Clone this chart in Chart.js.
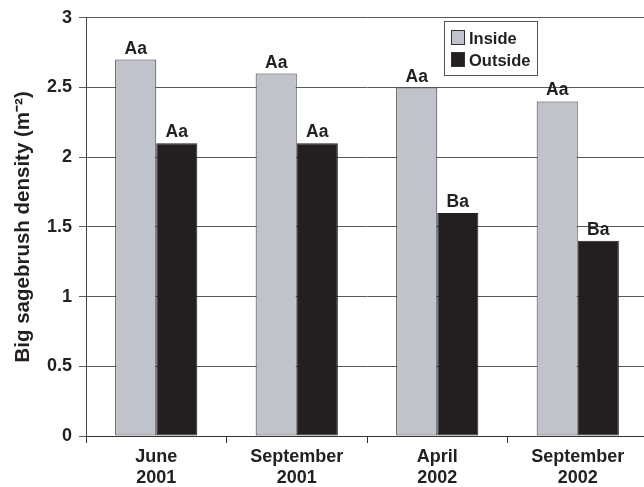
<!DOCTYPE html>
<html>
<head>
<meta charset="utf-8">
<script src="https://cdn.jsdelivr.net/npm/chart.js@4"></script>
<style>
  html, body { margin: 0; padding: 0; background: #fff; overflow: hidden; }
  #wrap { position: relative; width: 660px; height: 487px; }
</style>
</head>
<body>
<div id="wrap"><canvas id="c" width="660" height="487"></canvas></div>
<script>
// Sampling dates (two-line labels)
const categories = [["June", "2001"], ["September", "2001"], ["April", "2002"], ["September", "2002"]];
// Big sagebrush density (plants per m²)
const insideValues = [2.7, 2.6, 2.5, 2.4];
const outsideValues = [2.1, 2.1, 1.6, 1.4];
// Significance letters shown above each bar
const insideLetters = ["Aa", "Aa", "Aa", "Aa"];
const outsideLetters = ["Aa", "Aa", "Ba", "Ba"];
const seriesNames = ["Inside", "Outside"];
const yMin = 0, yMax = 3, yStep = 0.5;

const FONT = "'Liberation Sans', Arial, Helvetica, sans-serif";
const INSIDE_FILL = "#c0c3c9";
const OUTSIDE_FILL = "#231f20";

// Letters drawn above the bars, positioned from the bar elements themselves
const letterPlugin = {
  id: "letters",
  afterDatasetsDraw(chart) {
    const ctx = chart.ctx;
    const letterSets = [insideLetters, outsideLetters];
    ctx.save();
    ctx.font = "bold 17.5px " + FONT;
    ctx.fillStyle = "#231f20";
    ctx.textAlign = "center";
    ctx.textBaseline = "alphabetic";
    chart.data.datasets.forEach((ds, di) => {
      chart.getDatasetMeta(di).data.forEach((bar, i) => {
        ctx.fillText(letterSets[di][i], bar.x, bar.y - 6);
      });
    });
    ctx.restore();
  }
};

// Boxed legend inside the plot area, upper right
const boxLegendPlugin = {
  id: "boxLegend",
  afterDraw(chart) {
    const ctx = chart.ctx;
    const x = 444.5, y = 21.5, w = 93, h = 54;
    ctx.save();
    ctx.fillStyle = "#fff";
    ctx.fillRect(x, y, w, h);
    ctx.strokeStyle = "#555";
    ctx.lineWidth = 1;
    ctx.strokeRect(x, y, w, h);
    ctx.font = "bold 16.5px " + FONT;
    ctx.textAlign = "left";
    ctx.textBaseline = "middle";
    chart.data.datasets.forEach((ds, i) => {
      const cy = 38 + i * 22;
      ctx.fillStyle = ds.backgroundColor;
      ctx.fillRect(451.5, cy - 7.5, 13, 14);
      ctx.strokeStyle = "#333";
      ctx.strokeRect(451.5, cy - 7.5, 13, 14);
      ctx.fillStyle = "#231f20";
      ctx.fillText(ds.label, 469, cy + 1);
    });
    ctx.restore();
  }
};

new Chart(document.getElementById("c"), {
  type: "bar",
  data: {
    labels: categories,
    datasets: [
      {
        label: seriesNames[0],
        data: insideValues,
        backgroundColor: INSIDE_FILL,
        borderColor: "#3a3a3a",
        borderWidth: 1,
        borderSkipped: false
      },
      {
        label: seriesNames[1],
        data: outsideValues,
        backgroundColor: OUTSIDE_FILL,
        borderColor: "#231f20",
        borderWidth: 1,
        borderSkipped: false
      }
    ]
  },
  options: {
    responsive: false,
    animation: false,
    devicePixelRatio: 1,
    categoryPercentage: 0.585,
    barPercentage: 1,
    layout: { padding: { top: 14, right: 12, left: 0, bottom: 0 } },
    plugins: {
      legend: { display: false },
      tooltip: { enabled: false }
    },
    scales: {
      x: {
        offset: true,
        grid: {
          offset: true,
          drawOnChartArea: false,
          drawTicks: true,
          tickLength: 7,
          color: "#333"
        },
        border: { color: "#333", width: 1 },
        ticks: {
          color: "#231f20",
          font: { family: FONT, size: 18, weight: "bold", lineHeight: 1.2 },
          padding: 3,
          maxRotation: 0,
          autoSkip: false
        },
        afterFit(scale) { scale.height = 51; }
      },
      y: {
        min: yMin,
        max: yMax,
        ticks: {
          stepSize: yStep,
          color: "#231f20",
          font: { family: FONT, size: 18, weight: "bold" },
          padding: 7,
          callback: (v) => String(v)
        },
        grid: {
          color: "#5a5a5a",
          lineWidth: 1,
          tickLength: 7
        },
        border: { color: "#444", width: 1 },
        title: {
          display: true,
          text: ["Big sagebrush density (m\u207B\u00B2)"],
          color: "#231f20",
          font: { family: FONT, size: 20.5, weight: "bold" },
          padding: { top: 11, bottom: 0 }
        },
        afterFit(scale) { scale.width = 86; }
      }
    }
  },
  plugins: [letterPlugin, boxLegendPlugin]
});
</script>
</body>
</html>
